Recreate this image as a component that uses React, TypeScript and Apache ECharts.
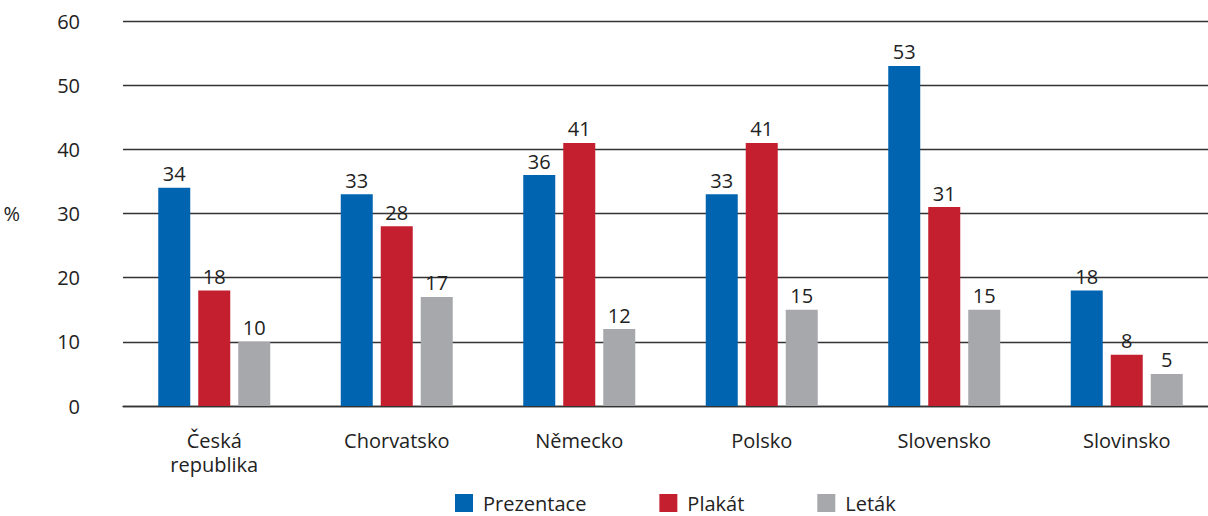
import React, { useEffect, useRef } from "react";
import * as echarts from "echarts";

const categories = ["Česká\nrepublika", "Chorvatsko", "Německo", "Polsko", "Slovensko", "Slovinsko"];
const prezentace = [34, 33, 36, 33, 53, 18];
const plakat = [18, 28, 41, 41, 31, 8];
const letak = [10, 17, 12, 15, 15, 5];
const seriesNames = ["Prezentace", "Plakát", "Leták"];
const colors = ["#0064b1", "#c41f2f", "#a7a8ac"];

const FONT = "'Open Sans', sans-serif";
const TXT = "#222222";

export default function App() {
  const ref = useRef<HTMLDivElement>(null);
  useEffect(() => {
    document.body.style.margin = "0";
    const chart = echarts.init(ref.current!, null, { renderer: "svg" });
    const label = {
      show: true,
      position: "top" as const,
      distance: 4,
      color: TXT,
      fontSize: 20,
      fontFamily: FONT,
    };
    const data = [prezentace, plakat, letak];
    chart.setOption({
      animation: false,
      textStyle: { fontFamily: FONT },
      grid: { left: 123, top: 21, right: 0, bottom: 110, containLabel: false },
      legend: {
        left: 455,
        top: 492,
        itemWidth: 18,
        itemHeight: 18,
        itemGap: 73,
        icon: "rect",
        padding: 0,
        textStyle: { color: TXT, fontSize: 20, fontFamily: FONT, lineHeight: 22, padding: [0, 0, 0, 5] },
        data: seriesNames,
      },
      xAxis: {
        type: "category",
        data: categories,
        axisLine: { show: true, lineStyle: { color: "#333", width: 1.3 } },
        axisTick: { show: false },
        axisLabel: { color: TXT, fontSize: 20, fontFamily: FONT, margin: 22, lineHeight: 24, interval: 0 },
      },
      yAxis: {
        type: "value",
        min: 0,
        max: 60,
        interval: 10,
        name: "%",
        nameLocation: "middle",
        nameRotate: 0,
        nameGap: 103,
        nameTextStyle: { color: TXT, fontSize: 20, fontFamily: FONT },
        axisLine: { show: false },
        axisTick: { show: false },
        axisLabel: { color: TXT, fontSize: 20, fontFamily: FONT, margin: 43 },
        splitLine: { lineStyle: { color: "#333", width: 1.3 } },
      },
      series: seriesNames.map((name, i) => ({
        name,
        type: "bar",
        data: data[i],
        barWidth: 32,
        barGap: "25%",
        itemStyle: { color: colors[i] },
        label,
      })),
    });
    return () => chart.dispose();
  }, []);
  return (
    <div style={{ width: 1208, height: 516, overflow: "hidden", position: "relative" }}>
      <div ref={ref} style={{ width: 1218, height: 516 }} />
    </div>
  );
}
